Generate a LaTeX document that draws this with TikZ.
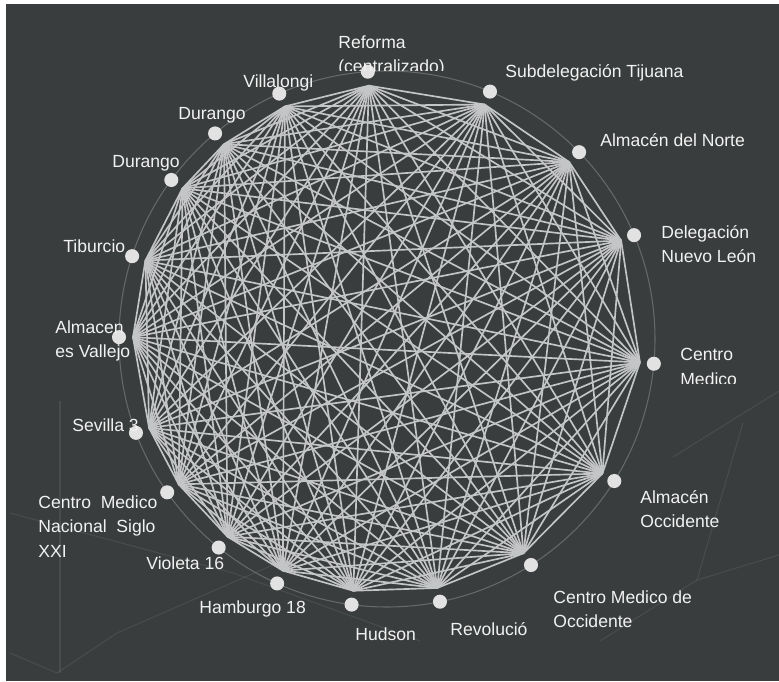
\documentclass[tikz,border=0pt]{standalone}
\usepackage{fontspec}
\setmainfont{Liberation Sans}
\usepackage{tikz}
\usetikzlibrary{positioning,calc}
\definecolor{grisFondo}{RGB}{58,61,61}
\definecolor{grisLinea}{RGB}{196,197,198}
\definecolor{grisPunto}{RGB}{226,226,226}
\definecolor{grisTenue}{RGB}{120,124,126}
\definecolor{blancoTexto}{RGB}{242,242,242}

\begin{document}
\begin{tikzpicture}[x=0.02cm,y=0.02cm,font=\fontsize{10}{14}\selectfont,
  nodo/.style={circle,fill=grisPunto,inner sep=0pt,minimum size=8pt},
  arista/.style={grisLinea,line width=0.95pt},
  etiqueta/.style={text=blancoTexto,align=left,inner sep=0pt},
  tenue/.style={grisTenue,line width=0.6pt,opacity=0.25}]
  \useasboundingbox (0,0) rectangle (779,681);
  \fill[white] (0,0) rectangle (779,681);
  \fill[grisFondo] (6,0) rectangle (779,677);

  % red tenue del fondo
  \draw[tenue] (10,168) -- (233,108) -- (420,40);
  \draw[tenue] (10,28) -- (57,8) -- (117,48) -- (330,141);
  \draw[tenue] (60,280) -- (60,8);
  \draw[tenue] (743,258) -- (697,101) -- (779,126);
  \draw[tenue] (673,224) -- (779,290);
  \draw[tenue] (697,101) -- (600,40);

  \coordinate (C) at (387,342);
  \def\listaNodos{ref,sub,nor,del,cme,aoc,cmo,rev,hud,ham,vio,cmn,sev,val,tib,dur,dgo,vil}
  \foreach \nombre/\ang in {ref/94.1,sub/67.4,nor/44.2,del/22.8,cme/-5.3,aoc/-32,
      cmo/-57.5,rev/-78.6,hud/-97.6,ham/-114.2,vio/-128.9,cmn/-145.1,sev/-159.5,
      val/179.6,tib/162,dur/143.6,dgo/129.9,vil/113.7}
    \coordinate (h-\nombre) at ($(C)+(\ang:254)$);

  % anillo
  \draw[grisTenue,line width=0.6pt,opacity=0.7] (C) circle (268);

  % todas las aristas
  \foreach \a [count=\i] in \listaNodos {
    \foreach \b [count=\j] in \listaNodos {
      \ifnum\j>\i \draw[arista] (h-\a) -- (h-\b); \fi
    }
  }

  \foreach \nombre/\ang in {ref/94.1,sub/67.4,nor/44.2,del/22.8,cme/-5.3,aoc/-32,
      cmo/-57.5,rev/-78.6,hud/-97.6,ham/-114.2,vio/-128.9,cmn/-145.1,sev/-159.5,
      val/179.6,tib/162,dur/143.6,dgo/129.9,vil/113.7}
    \node[nodo] (\nombre) at ($(C)+(\ang:268)$) {};

  % etiquetas
  \begin{scope}
    \clip (330,610) rectangle (470,660);
    \node[etiqueta,anchor=north west] (lRef) at (338,646) {Reforma\\(centralizado)};
  \end{scope}
  \node[etiqueta,anchor=west] (lSub) at (505,608) {Subdelegación Tijuana};
  \node[etiqueta,anchor=west] (lNor) at (600,541) {Almacén del Norte};
  \node[etiqueta,anchor=north west] (lDel) at (661,456) {Delegación\\Nuevo León};
  \begin{scope}
    \clip (670,298) rectangle (779,345);
    \node[etiqueta,anchor=north west] (lCme) at (680,333) {Centro\\Medico};
  \end{scope}
  \node[etiqueta,anchor=north west] (lAoc) at (640,191) {Almacén\\Occidente};
  \node[etiqueta,anchor=north west] (lCmo) at (553,91) {Centro Medico de\\Occidente};
  \node[etiqueta,anchor=west] (lRev) at (450,52) {Revolució};
  \node[etiqueta,anchor=west] (lHud) at (355,47) {Hudson};
  \node[etiqueta,anchor=west] (lHam) at (199,72) {Hamburgo 18};
  \node[etiqueta,anchor=west] (lVio) at (146,118) {Violeta 16};
  \node[etiqueta,anchor=north west] (lCmn) at (38,186) {Centro~ Medico\\Nacional~ Siglo\\XXI};
  \node[etiqueta,anchor=west] (lSev) at (72,256) {Sevilla 3};
  \node[etiqueta,anchor=north west] (lVal) at (55,361) {Almacen\\es Vallejo};
  \node[etiqueta,anchor=west] (lTib) at (63,435) {Tiburcio};
  \node[etiqueta,anchor=west] (lDur) at (112,518) {Durango};
  \node[etiqueta,anchor=west] (lDgo) at (178,566) {Durango};
  \node[etiqueta,anchor=west] (lVil) at (243,598) {Villalongi};
\end{tikzpicture}
\end{document}
